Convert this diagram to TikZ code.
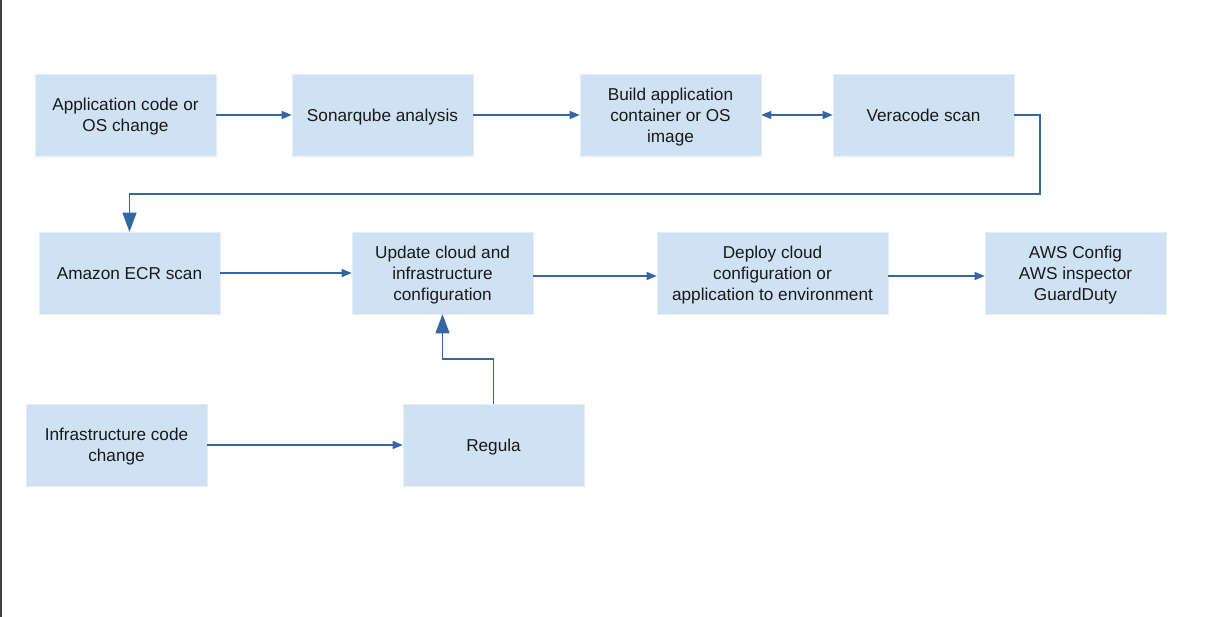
\documentclass[tikz,border=0pt]{standalone}
\usepackage{fontspec}
\setmainfont{Liberation Sans}
\usetikzlibrary{arrows.meta}
\definecolor{boxfill}{HTML}{CFE2F3}
\definecolor{linec}{HTML}{3465A4}
\tikzset{
  flowbox/.style={fill=boxfill, draw=boxfill!60!white, line width=0.6pt, minimum width=181pt, minimum height=82pt,
    align=center, inner sep=0pt, text depth=0pt, font=\fontsize{17.2}{21}\selectfont, text=black!90},
  conn/.style={draw=linec, line width=1.1pt, -{Triangle[length=10pt,width=8pt]}},
  bigconn/.style={draw=linec, line width=1.1pt, -{Triangle[length=19pt,width=14pt]}}
}
\begin{document}
\begin{tikzpicture}[x=1pt,y=-1pt]
\useasboundingbox (0,0) rectangle (1230,617);
\fill[white] (0,0) rectangle (1230,617);
\draw[black!75, line width=1.6pt] (1,0) -- (1,617);
\node[flowbox] (A) at (125.5,115) {Application code or\\OS change};
\node[flowbox] (B) at (382.5,115) {Sonarqube analysis};
\node[flowbox] (C) at (670.5,115) {Build application\\container or OS\\image};
\node[flowbox] (D) at (923.5,115) {Veracode scan};
\node[flowbox] (E) at (129.5,273) {Amazon ECR scan};
\node[flowbox] (F) at (442.5,273) {Update cloud and\\infrastructure\\configuration};
\node[flowbox, minimum width=231pt] (G) at (772.5,273) {Deploy cloud\\configuration or\\application to environment};
\node[flowbox] (H) at (1075.5,273) {AWS Config\\AWS inspector\\GuardDuty};
\node[flowbox] (I) at (116.5,445) {Infrastructure code\\change};
\node[flowbox] (J) at (493.5,445) {Regula};
\coordinate (k1) at (1040,194);
\coordinate (k2) at (493.5,359);
\draw[conn] (A.east) -- (B.west);
\draw[conn] (B.east) -- (C.west);
\draw[conn, {Triangle[length=10pt,width=8pt]}-{Triangle[length=10pt,width=8pt]}] (C.east) -- (D.west);
\draw[bigconn] (D.east) -| (k1) -| (E.north);
\draw[conn] (E.east) -- (F.west);
\draw[conn] ([yshift=-3pt]F.east) -- ([yshift=-3pt]G.west);
\draw[conn] ([yshift=-3pt]G.east) -- ([yshift=-3pt]H.west);
\draw[conn] (I.east) -- (J.west);
\draw[bigconn] (J.north) -- (k2) -| (F.south);
\end{tikzpicture}
\end{document}
